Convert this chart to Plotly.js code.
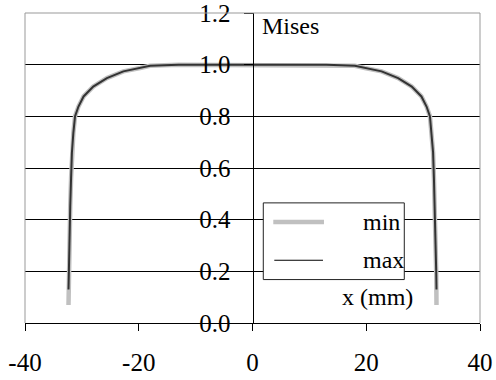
<!DOCTYPE html>
<html>
<head>
<meta charset="utf-8">
<script src="https://cdn.plot.ly/plotly-3.0.1.min.js"></script>
<style>
  html, body { margin: 0; padding: 0; background: #fff; }
  #chart { width: 496px; height: 380px; }
  /* every label in the chart uses the Times-style face */
  #chart svg text { font-family: 'Liberation Serif' !important; }
</style>
</head>
<body>
<div id="chart"></div>
<script>
// Position along the section (mm)
const xPos = [-32.35, -32.3, -32.2, -32.05, -31.9, -31.75, -31.5, -31.2, -30.6, -29.7, -28.0, -25.6, -22.7, -19.75, -18.0, -13.0, 0,
              13.0, 18.0, 19.75, 22.7, 25.6, 28.0, 29.7, 30.6, 31.2, 31.5, 31.75, 31.9, 32.05, 32.2, 32.3, 32.35];

// Normalised von Mises stress, lower envelope
const misesMin = [0.07, 0.20, 0.33, 0.45, 0.56, 0.66, 0.735, 0.80, 0.838, 0.877, 0.915, 0.948, 0.974, 0.987, 0.996, 1.0, 1.0,
                  1.0, 0.996, 0.987, 0.974, 0.948, 0.915, 0.877, 0.838, 0.80, 0.735, 0.66, 0.56, 0.45, 0.33, 0.20, 0.07];

// Normalised von Mises stress, upper envelope
const misesMax = [0.13, 0.20, 0.33, 0.45, 0.56, 0.66, 0.735, 0.80, 0.838, 0.877, 0.915, 0.948, 0.974, 0.987, 0.996, 1.0, 1.0,
                  1.0, 0.996, 0.987, 0.974, 0.948, 0.915, 0.877, 0.838, 0.80, 0.735, 0.66, 0.56, 0.45, 0.33, 0.20, 0.13];

const xTicks = [-40, -20, 0, 20, 40];
const yTicks = [0, 0.2, 0.4, 0.6, 0.8, 1.0, 1.2];
const yTickText = ['0.0', '0.2', '0.4', '0.6', '0.8', '1.0', '1.2'];

const serif = 'Liberation Serif';

const traces = [
  {
    x: xPos, y: misesMin, name: 'min', mode: 'lines',
    line: { color: '#c0c0c0', width: 4.5 }, showlegend: false
  },
  {
    x: xPos, y: misesMax, name: 'max', mode: 'lines',
    line: { color: '#333333', width: 2 }, showlegend: false
  }
];

// Hand-built key box
const keyBox = { x0: 0.5237, x1: 0.8336, y0: 0.1401, y1: 0.3875 };
const keyRows = [
  { label: 'min', y: 0.3261, color: '#c0c0c0', width: 4.5, x0: 0.5457, x1: 0.6571 },
  { label: 'max', y: 0.2025, color: '#000000', width: 1.2, x0: 0.5479, x1: 0.6549 }
];

const shapes = [
  // plot frame: top, left and right edges
  {
    type: 'path', xref: 'paper', yref: 'paper', layer: 'above',
    path: 'M0,0 L0,1 L1,1 L1,0',
    line: { color: '#999999', width: 1 }
  },
  {
    type: 'rect', xref: 'paper', yref: 'paper', layer: 'above',
    x0: keyBox.x0, x1: keyBox.x1, y0: keyBox.y0, y1: keyBox.y1,
    fillcolor: '#ffffff', line: { color: '#222222', width: 1 }
  }
];
keyRows.forEach(r => shapes.push({
  type: 'line', xref: 'paper', yref: 'paper', layer: 'above',
  x0: r.x0, x1: r.x1, y0: r.y, y1: r.y,
  line: { color: r.color, width: r.width }
}));

const annotations = [
  { text: 'Mises', xref: 'x', yref: 'y', x: 1.3, y: 1.2, xanchor: 'left', yanchor: 'top',
    yshift: 2, showarrow: false, font: { family: serif, size: 24, color: '#000000' } },
  { text: 'x (mm)', xref: 'x', yref: 'y', x: 15.4, y: 0.1, xanchor: 'left', yanchor: 'middle',
    showarrow: false, font: { family: serif, size: 24, color: '#000000' } }
];
keyRows.forEach(r => annotations.push({
  text: r.label, xref: 'paper', yref: 'paper', x: 0.738, y: r.y,
  xanchor: 'left', yanchor: 'middle', showarrow: false,
  font: { family: serif, size: 24, color: '#000000' }
}));

const layout = {
  width: 496, height: 380,
  margin: { l: 25, r: 16, t: 13, b: 57 },
  showlegend: false,
  xaxis: {
    range: [-40, 40], tickvals: xTicks, ticktext: xTicks.map(String),
    showgrid: false, zeroline: false,
    showline: true, linecolor: '#000', linewidth: 1,
    ticks: 'outside', ticklen: 7, tickcolor: '#000', tickwidth: 1,
    ticklabelstandoff: 10, ticklabeloverflow: 'allow',
    tickfont: { family: serif, size: 25, color: '#000' }
  },
  yaxis: {
    range: [0, 1.20001], tickvals: yTicks, ticktext: yTickText,
    anchor: 'free', position: 0.5, side: 'left',
    showgrid: true, gridcolor: '#000', gridwidth: 1,
    zeroline: false,
    showline: true, linecolor: '#000', linewidth: 1,
    ticks: 'outside', ticklen: 9, tickcolor: '#000', tickwidth: 1,
    ticklabelstandoff: 8, ticklabeloverflow: 'allow',
    tickfont: { family: serif, size: 25, color: '#000' }
  },
  shapes: shapes,
  annotations: annotations
};

const draw = () => Plotly.newPlot('chart', traces, layout, { staticPlot: true });
if (document.fonts && document.fonts.load) {
  document.fonts.load("24px 'Liberation Serif'").then(draw, draw);
} else {
  draw();
}
</script>
</body>
</html>
